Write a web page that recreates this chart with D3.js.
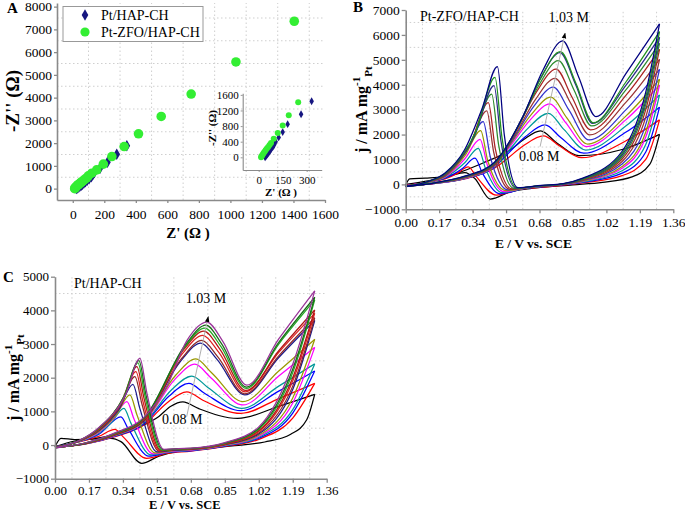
<!DOCTYPE html>
<html><head><meta charset="utf-8">
<script src="https://cdn.jsdelivr.net/npm/d3@7"></script>
<style>
body{margin:0;background:#fff}
svg{display:block}
text{font-family:'Liberation Serif','Times New Roman',serif;fill:#000}
</style></head>
<body><svg id="c" width="685" height="512"></svg>
<script>
// ---------------- Panel A data (Nyquist) ----------------
const seriesA = ["Pt/HAP-CH", "Pt-ZFO/HAP-CH"];
const ptHapRe = [22,27,33,39,46,54,62,71,81,92,104,118,127,137,173,220,279,343];
const ptHapIm = [0,20,45,75,110,150,195,245,300,365,435,520,610,705,899,1163,1515,1881];
const ptZfoRe = [12,14,17,21,25,30,35,41,47,54,61,69,78,88,99,121,152,194,248,326,417,561,751,1035,1405];
const ptZfoIm = [0,25,50,80,110,140,170,205,240,280,320,365,415,470,560,678,824,1075,1410,1850,2410,3172,4158,5568,7357];
const insetHapRe = [40,45,51,57,64,71,79,88,97,106,125,150,181,265,331];
const insetHapIm = [0,25,55,90,130,170,215,265,320,400,510,646,850,1105,1436];
const insetZfoRe = [15,18,22,27,32,38,44,51,59,68,77,94,119,150,188,247];
const insetZfoIm = [0,25,55,85,115,150,185,225,265,315,367,476,621,815,1080,1411];
const ticksAx = [0,200,400,600,800,1000,1200,1400,1600];
const ticksAy = [0,1000,2000,3000,4000,5000,6000,7000,8000];
const ticksInsetX = [0,150,300];
const ticksInsetY = [0,400,800,1200,1600];

// ---------------- Panel B/C data (CV) ----------------
const ticksE = [0,0.17,0.34,0.51,0.68,0.85,1.02,1.19,1.36];
const ticksBy = [-1000,0,1000,2000,3000,4000,5000,6000,7000];
const ticksCy = [-1000,0,1000,2000,3000,4000,5000];
const concLow = "0.08 M", concHigh = "1.03 M";
const colorsB = ["#000000","#ff0000","#0000ff","#009999","#ff00ff","#999900","#3333cc","#993333","#aa2222","#2e8b2e","#2a2a8a","#1f8f1f","#000080"];
const colorsC = ["#000000","#ff0000","#0000ff","#009999","#ff00ff","#999900","#1a1a8c","#8b2a2a","#e02020","#b01515","#22aa22","#1a6b1a","#993399"];

// forward (anodic) scans, [E, j]
const fwdB = [
 [[0,-30],[0.02,220],[0.1,250],[0.19,300],[0.39,850],[0.53,1380],[0.6,1800],[0.685,2145],[0.77,1650],[0.88,1150],[1.1,1400],[1.29,2010]],
 [[0,-50],[0.15,40],[0.3,220],[0.45,650],[0.5,930],[0.6,1560],[0.7,1945],[0.78,1550],[0.895,1070],[1.12,1750],[1.29,2590]],
 [[0,-60],[0.15,40],[0.3,230],[0.45,680],[0.508,1140],[0.608,1910],[0.708,2385],[0.788,1880],[0.905,1250],[1.12,2100],[1.29,3100]],
 [[0,-60],[0.15,45],[0.3,240],[0.45,700],[0.525,1370],[0.625,2280],[0.725,2855],[0.805,2200],[0.915,1380],[1.12,2350],[1.29,3590]],
 [[0,-65],[0.15,45],[0.3,250],[0.45,720],[0.533,1550],[0.633,2590],[0.733,3230],[0.813,2480],[0.92,1515],[1.12,2600],[1.29,3990]],
 [[0,-65],[0.15,50],[0.3,260],[0.45,740],[0.538,1680],[0.638,2800],[0.738,3500],[0.818,2680],[0.925,1620],[1.12,2750],[1.29,4220]],
 [[0,-70],[0.15,50],[0.3,270],[0.45,760],[0.55,1870],[0.65,3120],[0.75,3900],[0.83,2980],[0.93,1785],[1.12,3000],[1.29,4620]],
 [[0,-70],[0.15,55],[0.3,280],[0.45,780],[0.559,2040],[0.659,3400],[0.759,4260],[0.839,3250],[0.935,1985],[1.12,3300],[1.29,5020]],
 [[0,-75],[0.15,55],[0.3,290],[0.45,800],[0.564,2220],[0.664,3700],[0.764,4630],[0.844,3520],[0.94,2185],[1.12,3580],[1.29,5420]],
 [[0,-75],[0.15,60],[0.3,300],[0.45,820],[0.576,2380],[0.676,3970],[0.776,4970],[0.856,3780],[0.945,2345],[1.12,3800],[1.29,5660]],
 [[0,-80],[0.15,60],[0.3,310],[0.45,840],[0.584,2540],[0.684,4230],[0.784,5290],[0.864,4000],[0.95,2450],[1.12,3980],[1.29,5900]],
 [[0,-80],[0.15,65],[0.3,320],[0.45,860],[0.586,2560],[0.686,4260],[0.786,5330],[0.866,4040],[0.953,2470],[1.12,4120],[1.29,6130]],
 [[0,-85],[0.15,65],[0.3,330],[0.45,880],[0.598,2760],[0.698,4590],[0.798,5760],[0.878,4330],[0.967,2720],[1.12,4460],[1.29,6440]]
];
// reverse (cathodic) scans, listed by increasing E
const revB = [
 [[0,0],[0.12,150],[0.22,330],[0.30,470],[0.35,250],[0.43,-590],[0.53,-300],[0.66,-140],[0.85,-20],[1.0,80],[1.15,300],[1.24,800],[1.29,2010]],
 [[0,-50],[0.12,100],[0.2,220],[0.26,430],[0.318,700],[0.36,300],[0.46,-430],[0.58,-200],[0.72,-100],[0.9,60],[1.1,350],[1.22,1000],[1.29,2590]],
 [[0,-55],[0.12,100],[0.2,250],[0.29,650],[0.352,1050],[0.39,450],[0.48,-380],[0.6,-170],[0.72,-80],[0.9,80],[1.1,450],[1.22,1300],[1.29,3100]],
 [[0,-60],[0.12,105],[0.2,280],[0.3,870],[0.369,1450],[0.405,650],[0.49,-330],[0.61,-150],[0.72,-60],[0.9,100],[1.1,550],[1.22,1600],[1.29,3590]],
 [[0,-60],[0.12,110],[0.2,300],[0.3,1020],[0.378,1810],[0.414,800],[0.5,-290],[0.62,-130],[0.74,-50],[0.9,120],[1.1,650],[1.22,1900],[1.29,3990]],
 [[0,-65],[0.12,110],[0.2,320],[0.3,1140],[0.381,2160],[0.417,950],[0.51,-250],[0.63,-120],[0.75,-40],[0.9,130],[1.1,720],[1.22,2100],[1.29,4220]],
 [[0,-65],[0.12,115],[0.2,340],[0.31,1350],[0.394,2520],[0.43,1100],[0.52,-220],[0.64,-100],[0.76,-30],[0.9,150],[1.1,820],[1.22,2400],[1.29,4620]],
 [[0,-70],[0.12,120],[0.2,360],[0.32,1500],[0.412,2950],[0.447,1300],[0.53,-200],[0.65,-90],[0.77,-20],[0.9,170],[1.1,920],[1.22,2700],[1.29,5020]],
 [[0,-70],[0.12,120],[0.2,380],[0.33,1650],[0.42,3280],[0.455,1450],[0.54,-180],[0.66,-80],[0.78,-10],[0.9,190],[1.1,1020],[1.22,3000],[1.29,5420]],
 [[0,-75],[0.12,125],[0.2,400],[0.34,1800],[0.437,3620],[0.472,1600],[0.55,-160],[0.67,-70],[0.79,0],[0.9,200],[1.1,1100],[1.22,3200],[1.29,5660]],
 [[0,-75],[0.12,130],[0.2,420],[0.35,1950],[0.449,3965],[0.484,1750],[0.56,-150],[0.68,-60],[0.8,10],[0.9,220],[1.1,1180],[1.22,3350],[1.29,5900]],
 [[0,-80],[0.12,130],[0.2,440],[0.355,2100],[0.454,4300],[0.489,1900],[0.565,-140],[0.685,-50],[0.8,20],[0.9,230],[1.1,1250],[1.22,3500],[1.29,6130]],
 [[0,-80],[0.12,135],[0.2,460],[0.3,1400],[0.386,3000],[0.466,4730],[0.501,2000],[0.57,-130],[0.69,-40],[0.8,30],[0.9,250],[1.1,1330],[1.22,3700],[1.29,6440]]
];
const fwdC = [
 [[0,-50],[0.03,200],[0.1,160],[0.2,200],[0.3,300],[0.425,545],[0.52,850],[0.58,1150],[0.64,1280],[0.72,1080],[0.915,790],[1.12,1150],[1.3,1505]],
 [[0,-60],[0.15,30],[0.3,250],[0.45,620],[0.56,1250],[0.66,1580],[0.74,1330],[0.93,940],[1.12,1380],[1.3,1830]],
 [[0,-65],[0.15,35],[0.3,260],[0.45,650],[0.57,1450],[0.67,1830],[0.75,1530],[0.93,1020],[1.12,1600],[1.3,2200]],
 [[0,-65],[0.15,35],[0.3,270],[0.45,680],[0.585,1650],[0.685,2050],[0.765,1710],[0.935,1090],[1.12,1750],[1.3,2410]],
 [[0,-70],[0.15,40],[0.3,280],[0.45,710],[0.6,1950],[0.70,2400],[0.78,2000],[0.94,1190],[1.12,2050],[1.3,2900]],
 [[0,-70],[0.15,40],[0.3,290],[0.45,730],[0.605,2080],[0.705,2560],[0.785,2140],[0.94,1290],[1.12,2200],[1.3,3140]],
 [[0,-75],[0.15,45],[0.3,300],[0.45,760],[0.63,2500],[0.73,3030],[0.81,2550],[0.95,1490],[1.12,2600],[1.3,3700]],
 [[0,-75],[0.15,45],[0.3,310],[0.45,770],[0.635,2580],[0.735,3110],[0.815,2620],[0.95,1520],[1.12,2650],[1.3,3780]],
 [[0,-80],[0.15,50],[0.3,320],[0.45,790],[0.64,2730],[0.74,3260],[0.82,2750],[0.952,1580],[1.12,2750],[1.3,3910]],
 [[0,-80],[0.15,50],[0.3,330],[0.45,800],[0.645,2840],[0.745,3380],[0.825,2850],[0.955,1620],[1.12,2800],[1.3,4010]],
 [[0,-85],[0.15,55],[0.3,340],[0.45,820],[0.65,2920],[0.75,3470],[0.83,2930],[0.957,1680],[1.12,3000],[1.3,4310]],
 [[0,-85],[0.15,55],[0.3,350],[0.45,830],[0.655,3000],[0.755,3560],[0.835,3000],[0.958,1720],[1.12,3050],[1.3,4390]],
 [[0,-90],[0.15,60],[0.3,360],[0.45,850],[0.56,1750],[0.66,3100],[0.76,3650],[0.84,3080],[0.96,1780],[1.12,3150],[1.3,4580]]
];
const revC = [
 [[0,-50],[0.1,120],[0.2,180],[0.28,200],[0.33,100],[0.434,-545],[0.52,-330],[0.62,-180],[0.75,-110],[0.9,-20],[1.05,90],[1.18,320],[1.26,750],[1.3,1505]],
 [[0,-50],[0.12,90],[0.22,260],[0.30,465],[0.34,250],[0.459,-395],[0.56,-250],[0.68,-180],[0.85,-40],[1.02,170],[1.19,800],[1.3,1830]],
 [[0,-55],[0.12,100],[0.22,320],[0.33,840],[0.365,500],[0.47,-330],[0.57,-220],[0.68,-170],[0.85,-30],[1.02,200],[1.19,950],[1.3,2200]],
 [[0,-55],[0.12,100],[0.22,350],[0.28,650],[0.345,1090],[0.38,650],[0.48,-290],[0.58,-200],[0.68,-160],[0.85,-20],[1.02,230],[1.19,1050],[1.3,2410]],
 [[0,-60],[0.12,105],[0.22,380],[0.29,760],[0.36,1290],[0.395,780],[0.49,-260],[0.59,-180],[0.68,-150],[0.85,-10],[1.02,260],[1.19,1250],[1.3,2900]],
 [[0,-60],[0.12,110],[0.22,400],[0.305,880],[0.375,1490],[0.41,900],[0.50,-230],[0.6,-160],[0.68,-140],[0.85,0],[1.02,290],[1.19,1400],[1.3,3140]],
 [[0,-65],[0.12,115],[0.22,430],[0.32,1060],[0.39,1800],[0.425,1080],[0.51,-200],[0.6,-150],[0.68,-130],[0.85,10],[1.02,330],[1.19,1650],[1.3,3700]],
 [[0,-65],[0.12,120],[0.22,450],[0.33,1200],[0.40,2030],[0.435,1220],[0.52,-180],[0.6,-140],[0.68,-120],[0.85,20],[1.02,360],[1.19,1750],[1.3,3780]],
 [[0,-70],[0.12,120],[0.22,470],[0.335,1290],[0.405,2180],[0.44,1300],[0.525,-170],[0.6,-130],[0.68,-115],[0.85,30],[1.02,400],[1.19,1900],[1.3,3910]],
 [[0,-70],[0.12,125],[0.22,480],[0.34,1380],[0.41,2330],[0.445,1400],[0.53,-160],[0.61,-125],[0.68,-110],[0.85,40],[1.02,430],[1.19,2000],[1.3,4010]],
 [[0,-75],[0.12,125],[0.22,500],[0.345,1440],[0.415,2440],[0.45,1460],[0.535,-150],[0.61,-120],[0.68,-105],[0.85,50],[1.02,470],[1.19,2150],[1.3,4310]],
 [[0,-75],[0.12,130],[0.22,510],[0.35,1480],[0.42,2510],[0.455,1500],[0.54,-140],[0.615,-110],[0.68,-100],[0.85,60],[1.02,500],[1.19,2250],[1.3,4390]],
 [[0,-80],[0.12,130],[0.22,520],[0.355,1520],[0.425,2575],[0.46,1540],[0.545,-130],[0.62,-105],[0.68,-95],[0.85,70],[1.02,540],[1.19,2400],[1.3,4580]]
];
// annotation anchors (data units)
const arrowB = [[0.683,1514],[0.81,6068]];
const arrowC = [[0.659,840],[0.767,3810]];
const lowLabelB = [0.576,952], highLabelB = [0.828,6510];
const lowLabelC = [0.536,615], highLabelC = [0.756,4226];

// ---------------- drawing ----------------
const svg = d3.select("#c");
const FONT = "'Liberation Serif','Times New Roman',serif";
const AX = "#8a8a8a";

svg.append("defs").append("marker").attr("id","ah").attr("viewBox","0 0 8 8")
  .attr("refX",7).attr("refY",4).attr("markerWidth",6).attr("markerHeight",6).attr("orient","auto")
  .append("path").attr("d","M0,1 L8,4 L0,7 Z").attr("fill","#000");

function grid(g, x, y, gx, gy) {
  const [x0,x1] = x.range(), [y0,y1] = y.range();
  g.selectAll(null).data(gx).join("line").attr("x1",d=>x(d)).attr("x2",d=>x(d)).attr("y1",y0).attr("y2",y1)
    .attr("stroke","#cfcfcf").attr("stroke-dasharray","1.5,2.5");
  g.selectAll(null).data(gy).join("line").attr("y1",d=>y(d)).attr("y2",d=>y(d)).attr("x1",x0).attr("x2",x1)
    .attr("stroke","#cfcfcf").attr("stroke-dasharray","1.5,2.5");
}
function midpoints(t){ const m=[]; for(let i=0;i<t.length-1;i++) m.push((t[i]+t[i+1])/2); return m; }

function axes(g, x, y, xt, yt, fx, fy, o) {
  const ax = g.append("g").attr("transform",`translate(0,${y.range()[0]})`)
    .call(d3.axisBottom(x).tickValues(xt).tickFormat(fx).tickSizeInner(o.tick).tickSizeOuter(0).tickPadding(o.padX));
  const ay = g.append("g").attr("transform",`translate(${x.range()[0]},0)`)
    .call(d3.axisLeft(y).tickValues(yt).tickFormat(fy).tickSizeInner(o.tick).tickSizeOuter(0).tickPadding(o.padY));
  [ax,ay].forEach(a=>{
    a.attr("font-family",FONT).attr("font-size",o.fs);
    a.selectAll(".domain").attr("stroke",AX).attr("stroke-width",o.sw);
    a.selectAll(".tick line").attr("stroke",AX).attr("stroke-width",o.sw*0.8);
    a.selectAll("text").attr("fill","#000");
  });
}

// ===== Panel A =====
{
  const g = svg.append("g");
  const x = d3.scaleLinear([-100,1600],[57,325]);
  const y = d3.scaleLinear([-500,8160],[200,3]);
  grid(g, x, y, midpoints(ticksAx), midpoints(ticksAy));
  const hap = ptHapRe.map((v,i)=>[v,ptHapIm[i]]);
  const zfo = ptZfoRe.map((v,i)=>[v,ptZfoIm[i]]);
  g.selectAll(null).data(hap).join("path").attr("d",d3.symbol(d3.symbolDiamond,38))
    .attr("transform",d=>`translate(${x(d[0])},${y(d[1])})`).attr("fill","#161680");
  g.selectAll(null).data(zfo).join("circle").attr("cx",d=>x(d[0])).attr("cy",d=>y(d[1])).attr("r",4.8).attr("fill","#33ee33");
  axes(g, x, y, ticksAx, ticksAy, d3.format("d"), d3.format("d"), {tick:3,padX:6,padY:2,fs:13.5,sw:1.6});
  g.append("text").attr("x",188).attr("y",238).attr("text-anchor","middle").attr("font-weight","bold").attr("font-size",15).text("Z' (Ω )");
  g.append("text").attr("transform","translate(19,101) rotate(-90)").attr("text-anchor","middle").attr("font-weight","bold").attr("font-size",19).text("-Z'' (Ω)");
  g.append("text").attr("x",7).attr("y",13).attr("font-weight","bold").attr("font-size",15).text("A");
  // legend
  const lg = g.append("g");
  lg.append("rect").attr("x",63).attr("y",6.5).attr("width",140).attr("height",35).attr("fill","#fff").attr("stroke","#999").attr("stroke-width",1);
  lg.append("path").attr("d",d3.symbol(d3.symbolDiamond,38)).attr("transform","translate(85,15)").attr("fill","#161680");
  lg.append("circle").attr("cx",85).attr("cy",32).attr("r",4.6).attr("fill","#33ee33");
  lg.append("text").attr("x",101).attr("y",20).attr("font-size",14).text(seriesA[0]);
  lg.append("text").attr("x",101).attr("y",37).attr("font-size",14).text(seriesA[1]);
  // inset
  const xi = d3.scaleLinear([-100,394],[242.7,321.7]);
  const yi = d3.scaleLinear([-325,1640],[170,93.3]);
  const ih = insetHapRe.map((v,i)=>[v,insetHapIm[i]]);
  const iz = insetZfoRe.map((v,i)=>[v,insetZfoIm[i]]);
  g.selectAll(null).data(ih).join("path").attr("d",d3.symbol(d3.symbolDiamond,18))
    .attr("transform",d=>`translate(${xi(d[0])},${yi(d[1])})`).attr("fill","#161680");
  g.selectAll(null).data(iz).join("circle").attr("cx",d=>xi(d[0])).attr("cy",d=>yi(d[1])).attr("r",3).attr("fill","#33ee33");
  axes(g, xi, yi, ticksInsetX, ticksInsetY, d3.format("d"), d3.format("d"), {tick:2,padX:4,padY:2,fs:11,sw:1.1});
  g.append("text").attr("x",281).attr("y",196).attr("text-anchor","middle").attr("font-weight","bold").attr("font-size",11).text("Z' (Ω )");
  g.append("text").attr("transform","translate(216,128) rotate(-90)").attr("text-anchor","middle").attr("font-weight","bold").attr("font-size",11).text("-Z'' (Ω)");
}

function cvPanel(x, y, yt, fwd, rev, colors, arrow, lowL, highL, title, tpos, letter, lpos, ylab, xlabY, o) {
  const g = svg.append("g");
  grid(g, x, y, midpoints(ticksE), midpoints(yt));
  const line = d3.line().x(d=>x(d[0])).y(d=>y(d[1])).curve(d3.curveMonotoneX);
  fwd.forEach((c,i)=>{
    g.append("path").attr("d",line(c)).attr("fill","none").attr("stroke",colors[i]).attr("stroke-width",1.25);
    g.append("path").attr("d",line(rev[i])).attr("fill","none").attr("stroke",colors[i]).attr("stroke-width",1.25);
  });
  axes(g, x, y, ticksE, yt, d3.format(".2f"), d3.format("d"), {tick:4,padX:o.padX,padY:2,fs:o.fs,sw:1.6});
  g.append("line").attr("x1",x(arrow[0][0])).attr("y1",y(arrow[0][1])).attr("x2",x(arrow[1][0])).attr("y2",y(arrow[1][1]))
    .attr("stroke","#b0b0b0").attr("stroke-width",1).attr("marker-end","url(#ah)");
  g.append("text").attr("x",x(lowL[0])).attr("y",y(lowL[1])).attr("font-size",14).text(concLow);
  g.append("text").attr("x",x(highL[0])).attr("y",y(highL[1])).attr("text-anchor","middle").attr("font-size",14).text(concHigh);
  g.append("text").attr("x",tpos[0]).attr("y",tpos[1]).attr("font-size",14).text(title);
  g.append("text").attr("x",lpos[0]).attr("y",lpos[1]).attr("font-weight","bold").attr("font-size",15).text(letter);
  const cx = (x.range()[0]+x.range()[1])/2;
  g.append("text").attr("x",cx-6).attr("y",xlabY).attr("text-anchor","middle").attr("font-weight","bold").attr("font-size",o.tfs).text("E / V vs. SCE");
  const cy = (y.range()[0]+y.range()[1])/2;
  const t = g.append("text").attr("transform",`translate(${ylab},${cy}) rotate(-90)`).attr("text-anchor","middle")
    .attr("font-weight","bold").attr("font-size",16);
  t.append("tspan").text("j / mA mg");
  t.append("tspan").attr("dy",-7).attr("font-size",11).text("-1");
  t.append("tspan").attr("dy",12).attr("font-size",11).text("Pt");
}

cvPanel(d3.scaleLinear([0,1.36],[405.7,673.3]), d3.scaleLinear([-1000,7000],[209.3,10]), ticksBy,
        fwdB, revB, colorsB, arrowB, lowLabelB, highLabelB, "Pt-ZFO/HAP-CH", [420,21], "B", [353,12], 367, 248,
        {padX:4, fs:13.5, tfs:13.5});
cvPanel(d3.scaleLinear([0,1.36],[55,326.7]), d3.scaleLinear([-1000,5000],[478.7,276.7]), ticksCy,
        fwdC, revC, colorsC, arrowC, lowLabelC, highLabelC, "Pt/HAP-CH", [74,288], "C", [3,282], 19, 508.8,
        {padX:3, fs:13, tfs:12.5});
</script></body></html>
